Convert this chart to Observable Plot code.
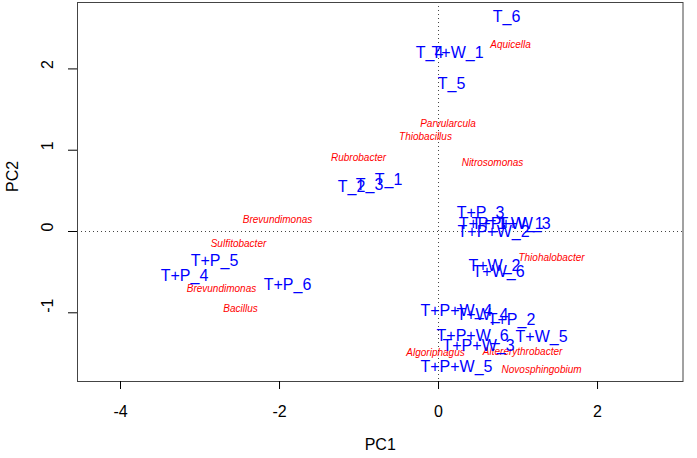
<!DOCTYPE html>
<html><head><meta charset="utf-8">
<script src="https://cdn.jsdelivr.net/npm/d3@7"></script>
<script src="https://cdn.jsdelivr.net/npm/@observablehq/plot@0.6"></script>
<style>body{margin:0;background:#fff}#chart svg{display:block}</style>
</head><body><div id="chart"></div>
<script>
// Sample scores (blue labels)
const sampleNames = ["T_6","T_4","T+W_1","T_5","T_2","T_3","T_1","T+P_3","T+P_1","T+P+W_1","T+W_3","T+P+W_2","T+W_2","T+W_6","T+P+W_4","T+W_4","T+P_2","T+P+W_6","T+W_5","T+P+W_3","T+P+W_5","T+P_5","T+P_4","T+P_6"];
const samplePC1 = [0.855,-0.113,0.239,0.164,-1.094,-0.868,-0.629,0.528,0.553,0.868,1.082,0.692,0.704,0.755,0.226,0.553,0.918,0.428,1.296,0.503,0.226,-2.818,-3.195,-1.899];
const samplePC2 = [2.64,2.20,2.20,1.82,0.55,0.57,0.63,0.23,0.09,0.10,0.09,-0.01,-0.42,-0.50,-0.98,-1.02,-1.09,-1.28,-1.30,-1.41,-1.67,-0.36,-0.55,-0.66];

// Taxon loadings (red labels)
const taxonNames = ["Aquicella","Parvularcula","Thiobacillus","Rubrobacter","Nitrosomonas","Brevundimonas","Sulfitobacter","Brevundimonas","Bacillus","Thiohalobacter","Algoriphagus","Altererythrobacter","Novosphingobium"];
const taxonPC1 = [0.906,0.119,-0.164,-1.006,0.679,-2.025,-2.516,-2.730,-2.491,1.421,-0.038,1.057,1.296];
const taxonPC2 = [2.30,1.33,1.17,0.91,0.84,0.14,-0.15,-0.70,-0.95,-0.32,-1.49,-1.48,-1.70];

const xTicks = [-4,-2,0,2];
const yTicks = [-1,0,1,2];
const refLines = [0];

const samples = sampleNames.map((name,i)=>({name, pc1: samplePC1[i], pc2: samplePC2[i]}));
const taxa = taxonNames.map((name,i)=>({name, pc1: taxonPC1[i], pc2: taxonPC2[i]}));

const font = "'Liberation Sans', Arial, Helvetica, sans-serif";

const chart = Plot.plot({
  width: 697, height: 458,
  marginLeft: 77, marginRight: 14.5, marginTop: 2, marginBottom: 77,
  style: {fontFamily: font, background: "white", color: "black"},
  x: {domain: [-4.541, 3.075]},
  y: {domain: [-1.845, 2.817]},
  marks: [
    Plot.ruleX(refLines, {stroke: "#444", strokeDasharray: "1,3"}),
    Plot.ruleY(refLines, {stroke: "#444", strokeDasharray: "1,3"}),
    Plot.frame({stroke: "#444"}),
    Plot.axisX({ticks: xTicks, tickSize: 8, tickPadding: 16, fontSize: 16, tickFormat: d => String(d), label: null}),
    Plot.axisY({ticks: yTicks, tickSize: 9, tickFormat: () => "", label: null}),
    Plot.text(yTicks, {y: d => d, frameAnchor: "left", dx: -29.5, rotate: -90, text: d => String(d), fontSize: 16, fill: "black"}),
    Plot.text(["PC1"], {frameAnchor: "bottom", dy: 68, fontSize: 16, fill: "black"}),
    Plot.text(["PC2"], {frameAnchor: "left", dx: -65, rotate: -90, fontSize: 16, fill: "black"}),
    Plot.text(taxa, {x: "pc1", y: "pc2", text: "name", fill: "red", fontSize: 10, fontStyle: "italic"}),
    Plot.text(samples, {x: "pc1", y: "pc2", text: "name", fill: "blue", fontSize: 16})
  ]
});
document.getElementById("chart").appendChild(chart);
</script>
</body></html>
